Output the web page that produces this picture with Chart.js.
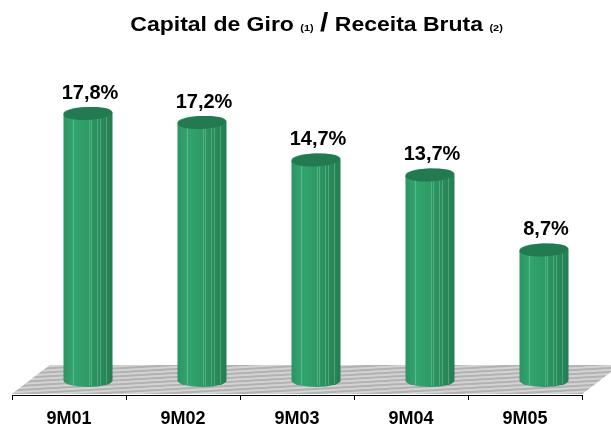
<!DOCTYPE html>
<html>
<head>
<meta charset="utf-8">
<script src="https://cdn.jsdelivr.net/npm/chart.js@4/dist/chart.umd.min.js"></script>
<style>
  html, body { margin: 0; padding: 0; background: #fff; }
  #wrap { position: relative; width: 611px; height: 425px; }
  #title { position: absolute; top: 10px; left: 11px; width: 611px; text-align: center;
           font-family: "Liberation Sans", Arial, sans-serif; font-weight: bold; font-size: 20px; color: #000;
           white-space: nowrap; line-height: 24px; transform: scaleX(1.15); transform-origin: 305px 0; }
  #title .sub { font-size: 9.5px; }
  #title .sl { font-size: 26px; }
  canvas { position: absolute; top: 0; left: 0; }
</style>
</head>
<body>
<div id="wrap">
  <canvas id="c" width="611" height="425"></canvas>
  <div id="title">Capital de Giro <span class="sub">(1)</span> <span class="sl">/</span> Receita Bruta <span class="sub">(2)</span></div>
</div>
<script>
const categories = ['9M01', '9M02', '9M03', '9M04', '9M05'];
const values = [17.8, 17.2, 14.7, 13.7, 8.7];
const valueLabels = ['17,8%', '17,2%', '14,7%', '13,7%', '8,7%'];

const FONT = '"Liberation Sans", Arial, sans-serif';
const DX = 38, DY = 29; // 3D floor depth

const floorPlugin = {
  id: 'floor',
  beforeDatasetsDraw(chart) {
    const ctx = chart.ctx;
    const { left, right } = chart.chartArea;
    const y0 = chart.scales.y.getPixelForValue(0) - 1;
    ctx.save();
    ctx.beginPath();
    ctx.moveTo(left, y0);
    ctx.lineTo(right, y0);
    ctx.lineTo(right + DX, y0 - DY);
    ctx.lineTo(left + DX, y0 - DY);
    ctx.closePath();
    ctx.fillStyle = '#c3c3c3';
    ctx.fill();
    ctx.clip();
    ctx.lineWidth = 2;
    for (let k = -20; k < 60; k++) {
      const yy = y0 - DY + k * 2;
      ctx.strokeStyle = (k % 2 === 0) ? '#b2b2b2' : '#d3d3d3';
      ctx.beginPath();
      ctx.moveTo(left - 10, yy + 6);
      ctx.lineTo(right + DX + 10, yy - 30);
      ctx.stroke();
    }
    ctx.restore();
  }
};

const cylPlugin = {
  id: 'cyl',
  afterDatasetsDraw(chart) {
    const ctx = chart.ctx;
    const meta = chart.getDatasetMeta(0);
    meta.data.forEach((el, i) => {
      const cx = el.x + DX / 2;
      const top = el.y - DY / 2;
      const bot = el.base - DY / 2;
      const rx = el.width / 2, ry = 6.5;
      ctx.save();
      const g = ctx.createLinearGradient(cx - rx, 0, cx + rx, 0);
      g.addColorStop(0, '#2c9463');
      g.addColorStop(0.2, '#33a56e');
      g.addColorStop(0.5, '#2e9a65');
      g.addColorStop(0.75, '#298b5b');
      g.addColorStop(1, '#257e52');
      ctx.beginPath();
      ctx.moveTo(cx - rx, top);
      ctx.lineTo(cx - rx, bot);
      ctx.ellipse(cx, bot, rx, ry, 0, Math.PI, 0, true);
      ctx.lineTo(cx + rx, top);
      ctx.ellipse(cx, top, rx, ry, 0, 0, Math.PI, true);
      ctx.closePath();
      ctx.fillStyle = g;
      ctx.fill();
      // facet lines
      ctx.strokeStyle = 'rgba(200,255,220,0.25)';
      ctx.lineWidth = 1;
      [0.19, 0.52, 0.56, 0.68, 0.75, 0.86].forEach(f => {
        const x = Math.round(cx - rx + f * 2 * rx) + 0.5;
        ctx.beginPath();
        ctx.moveTo(x, top + 2);
        ctx.lineTo(x, bot + ry * Math.sqrt(Math.max(0, 1 - Math.pow((x - cx) / rx, 2))) - 1);
        ctx.stroke();
      });
      // top ellipse
      ctx.beginPath();
      ctx.ellipse(cx, top, rx, ry, -0.05, 0, Math.PI * 2);
      ctx.fillStyle = '#247a50';
      ctx.fill();
      ctx.restore();
      // value label
      ctx.save();
      ctx.font = 'bold 20px ' + FONT;
      ctx.fillStyle = '#000';
      ctx.textAlign = 'center';
      ctx.textBaseline = 'alphabetic';
      ctx.fillText(valueLabels[i], cx + 2, top - 15);
      ctx.restore();
    });
  }
};

new Chart(document.getElementById('c'), {
  type: 'bar',
  data: {
    labels: categories,
    datasets: [{
      data: values,
      backgroundColor: 'rgba(0,0,0,0)',
      borderWidth: 0,
      barPercentage: 0.43,
      categoryPercentage: 1
    }]
  },
  options: {
    responsive: false,
    animation: false,
    layout: { padding: { left: 12, right: 29, top: 95, bottom: 0 } },
    plugins: { legend: { display: false }, tooltip: { enabled: false }, title: { display: false } },
    scales: {
      x: {
        offset: true,
        grid: { display: true, drawOnChartArea: false, offset: true, tickLength: 5, color: '#000', lineWidth: 1 },
        border: { display: true, color: '#000', width: 1 },
        ticks: { color: '#000', font: { family: FONT, size: 18, weight: 'bold' }, padding: 8 },
        afterFit(s) { s.height = 30; }
      },
      y: { display: false, min: 0, max: 20 }
    }
  },
  plugins: [floorPlugin, cylPlugin]
});
</script>
</body>
</html>
